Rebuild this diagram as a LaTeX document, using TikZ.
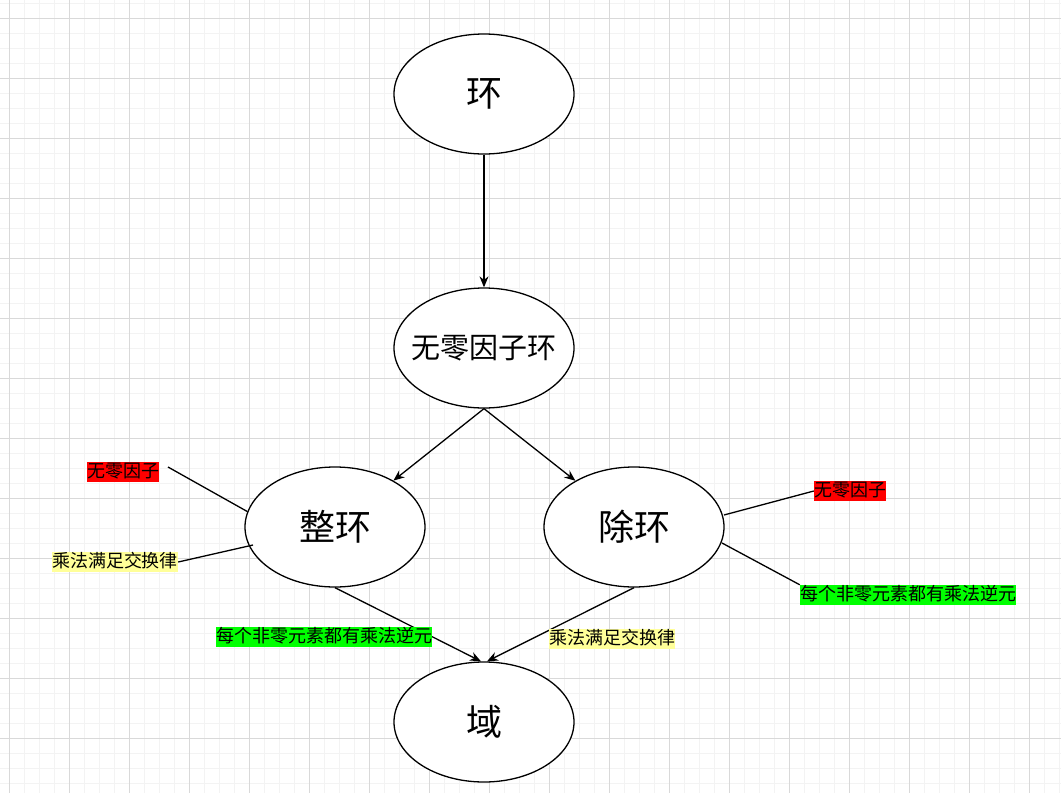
\documentclass[tikz,border=0pt]{standalone}
\usepackage{fontspec}
\newfontfamily\cjk{Noto Sans CJK SC}
\usetikzlibrary{arrows.meta,shapes.geometric}
\definecolor{gminor}{HTML}{F3F3F3}
\definecolor{gmajor}{HTML}{D9D9D9}
\definecolor{lred}{HTML}{FF0000}
\definecolor{lyellow}{HTML}{FFFF99}
\definecolor{lgreen}{HTML}{00FF00}
\tikzset{
  ell/.style={draw=black,line width=1.3pt,ellipse,minimum width=180pt,minimum height=120pt,inner sep=0pt,fill=white},
  big/.style={font=\cjk\fontsize{36}{40}\selectfont,inner sep=0pt},
  mid/.style={font=\cjk\fontsize{29}{32}\selectfont,inner sep=0pt},
  lbl/.style={font=\cjk\fontsize{18}{20}\selectfont,inner xsep=0pt,inner ysep=1pt,text height=14.5pt,text depth=3.5pt},
  conn/.style={line width=1.3pt,-{Stealth[length=11pt,width=9pt]}},
  side/.style={line width=1.3pt}
}
\begin{document}
\begin{tikzpicture}[x=1pt,y=-1pt]
\useasboundingbox (0,0) rectangle (1061,793);
\fill[white] (0,0) rectangle (1061,793);
% minor grid
\foreach \x in {-5.7,9.3,...,1061} {\draw[gminor,line width=1.2pt] (\x,0) -- (\x,793);}
\foreach \y in {3.3,18.3,...,793} {\draw[gminor,line width=1.2pt] (0,\y) -- (1061,\y);}
% major grid
\foreach \x in {9.3,69.3,...,1061} {\draw[gmajor,line width=0.8pt] (\x,0) -- (\x,793);}
\foreach \y in {18.3,78.3,...,793} {\draw[gmajor,line width=0.8pt] (0,\y) -- (1061,\y);}

\node[ell,label={[big]center:环}] (huan) at (484,94) {};
\node[ell,label={[mid]center:无零因子环}] (wl) at (484,348) {};
\node[ell,label={[big]center:整环}] (zh) at (335,527) {};
\node[ell,label={[big]center:除环}] (ch) at (634,527) {};
\node[ell,label={[big]center:域}] (yu) at (484,722) {};

\draw[conn] (huan.south) -- (wl.north);
\draw[conn] (wl.south) -- (zh);
\draw[conn] (wl.south) -- (ch);
\draw[conn] (zh.south) -- ([xshift=-3pt]yu.north);
\draw[conn] (ch.south) -- ([xshift=3pt]yu.north);

% labels
\node[lbl,fill=lred] (l1) at (123,472) {无零因子};
\node[lbl,fill=lyellow] (l2) at (115,562) {乘法满足交换律};
\node[lbl,fill=lred] (l3) at (850,491) {无零因子};
\node[lbl,fill=lgreen] (l4) at (908,595) {每个非零元素都有乘法逆元};
\node[lbl,fill=lgreen] (l5) at (324,637) {每个非零元素都有乘法逆元};
\node[lbl,fill=lyellow] (l6) at (612,639) {乘法满足交换律};

\coordinate (c1) at (168,467);
\coordinate (c2) at (253,545);
\coordinate (c3) at (722,543);
\coordinate (c4) at (724,515);
\draw[side] (c1) -- (zh.170);
\draw[side] (l2.east) -- (c2);
\draw[side] (c4) -- (l3.west);
\draw[side] (c3) -- (l4.north west);
\end{tikzpicture}
\end{document}
